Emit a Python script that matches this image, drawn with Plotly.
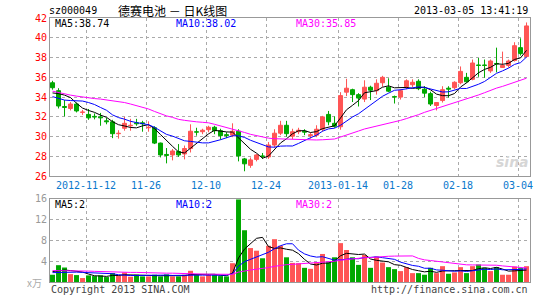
import plotly.graph_objects as go
import pandas as pd

# ---------------- data ----------------
holidays = ["2013-01-01", "2013-01-02", "2013-01-03",
            "2013-02-11", "2013-02-12", "2013-02-13", "2013-02-14", "2013-02-15"]
dates = [d for d in pd.bdate_range("2012-11-02", "2013-03-05")
         if d.strftime("%Y-%m-%d") not in holidays]

opens = [35.45, 34.65, 33.05, 32.85, 33.3, 32.45, 32.25, 32.05, 32.0, 31.6,
         31.5, 30.3, 30.85, 31.1, 31.4, 31.4, 30.9, 30.9, 29.35, 28.2,
         28.15, 28.5, 28.25, 28.8, 30.5, 30.5, 30.7, 30.95, 30.6, 30.2,
         30.15, 30.55, 27.75, 27.1, 27.7, 28.05, 27.95, 29.15, 30.35, 31.15,
         30.05, 30.5, 30.55, 30.1, 30.15, 30.75, 32.25, 31.35, 31.0, 34.5,
         34.75, 34.25, 33.8, 35.0, 34.65, 35.45, 35.0, 34.05, 34.0, 35.05,
         35.25, 35.6, 34.8, 34.35, 33.15, 33.65, 34.9, 34.95, 35.45, 36.0,
         35.8, 37.25, 37.25, 36.65, 37.4, 37.0, 37.2, 37.7, 39.0, 38.1]
highs = [35.65, 34.9, 33.7, 33.5, 33.45, 32.7, 32.8, 32.35, 32.4, 31.9,
         31.7, 30.65, 32.0, 31.8, 31.8, 31.6, 31.55, 31.05, 29.4, 28.85,
         28.75, 29.25, 29.1, 31.25, 30.9, 30.8, 31.1, 31.1, 30.8, 30.45,
         31.35, 30.75, 27.85, 27.9, 28.25, 28.35, 29.45, 30.75, 31.6, 31.6,
         30.8, 30.9, 30.75, 30.4, 31.15, 32.1, 32.6, 32.05, 34.5, 35.85,
         34.85, 34.4, 35.7, 35.15, 35.8, 36.15, 35.9, 34.15, 34.8, 35.8,
         35.8, 35.8, 35.1, 34.55, 33.5, 35.1, 35.1, 35.6, 37.1, 36.45,
         37.8, 37.95, 37.8, 37.8, 39.0, 38.6, 37.8, 39.55, 39.95, 41.55]
lows = [34.75, 32.85, 32.05, 32.65, 32.45, 32.2, 31.7, 31.75, 31.1, 31.25,
        29.85, 29.8, 30.6, 30.6, 31.1, 30.5, 30.5, 29.25, 27.9, 27.3,
        27.6, 27.95, 27.7, 28.4, 30.1, 30.25, 30.45, 30.25, 29.7, 29.85,
        29.95, 27.5, 26.5, 26.85, 27.5, 27.75, 27.75, 28.9, 30.15, 30.0,
        29.75, 30.25, 30.15, 29.8, 29.95, 30.5, 31.15, 30.9, 30.7, 34.1,
        33.5, 33.05, 33.5, 33.7, 34.25, 35.05, 34.5, 33.35, 33.75, 34.8,
        35.0, 34.7, 34.0, 33.1, 32.65, 33.45, 33.95, 34.8, 35.3, 35.45,
        35.7, 36.05, 35.95, 36.45, 36.5, 36.95, 37.0, 37.6, 38.2, 38.0]
closes = [34.95, 33.1, 32.95, 33.3, 32.6, 32.5, 31.9, 31.98, 31.9, 31.5,
          30.3, 30.35, 31.35, 31.15, 31.3, 31.3, 30.95, 29.35, 28.15, 28.1,
          28.55, 28.15, 28.8, 30.55, 30.45, 30.65, 30.95, 30.6, 30.1, 30.1,
          30.55, 28.05, 27.25, 27.65, 28.15, 28.0, 29.15, 30.35, 31.15, 30.3,
          30.5, 30.65, 30.45, 30.2, 30.75, 32.0, 31.5, 31.05, 34.15, 34.9,
          34.25, 33.9, 35.0, 34.7, 35.4, 36.0, 34.6, 34.0, 34.65, 35.65,
          35.5, 34.85, 34.4, 33.3, 33.45, 34.75, 34.8, 35.5, 36.6, 35.55,
          37.45, 37.2, 37.2, 37.65, 37.35, 37.2, 37.65, 39.2, 38.4, 41.2]
volumes = [1.40, 3.24, 2.79, 1.52, 1.33, 0.76, 1.27, 1.14, 1.27, 0.95,
           1.71, 1.21, 1.84, 1.02, 1.40, 1.08, 1.08, 1.40, 1.08, 1.46,
           1.08, 1.08, 1.40, 2.16, 1.40, 1.08, 1.40, 1.40, 1.14, 1.08,
           3.62, 15.9, 9.97, 6.54, 6.03, 4.57, 6.98, 8.25, 6.98, 4.76,
           3.68, 3.62, 2.73, 2.54, 3.81, 5.40, 3.81, 4.76, 7.49, 6.16,
           4.76, 3.30, 5.21, 2.73, 4.89, 3.75, 2.86, 2.48, 2.10, 2.86,
           1.71, 1.71, 1.40, 2.73, 1.71, 3.05, 1.59, 1.84, 2.86, 1.71,
           3.05, 3.37, 2.73, 2.10, 2.86, 1.40, 1.40, 2.98, 2.67, 3.05]

ma5_head = [34.42, 34.35, 34.2, 33.95]
ma10_head = [34.05, 33.85, 33.7, 33.65, 33.65, 33.6, 33.45, 33.25, 32.95]
ma30_head = [34.6, 34.45, 34.3, 34.2, 34.1, 34.0, 33.92, 33.85, 33.8, 33.72,
             33.62, 33.55, 33.45, 33.3, 33.15, 33.0, 32.8, 32.55, 32.3, 32.1,
             31.95, 31.75, 31.65, 31.55, 31.5, 31.45, 31.4, 31.25, 31.1]
vma5_head = [2.0, 2.2, 2.3, 2.2]
vma10_head = [1.8, 1.85, 1.9, 1.9, 1.9, 1.85, 1.8, 1.75, 1.65]
vma30_head = [2.2, 2.2, 2.2, 2.15, 2.15, 2.1, 2.1, 2.05, 2.0, 2.0,
              1.95, 1.9, 1.9, 1.85, 1.85, 1.8, 1.8, 1.75, 1.75, 1.7,
              1.7, 1.65, 1.65, 1.6, 1.6, 1.55, 1.5, 1.5, 1.45]

tick_dates = ["2012-11-12", "2012-11-26", "2012-12-10", "2012-12-24",
              "2013-01-14", "2013-01-28", "2013-02-18", "2013-03-04"]
tick_labels = ["2012-11-12", "11-26", "12-10", "12-24",
               "2013-01-14", "01-28", "02-18", "03-04"]

price_ma_labels = ["MA5:38.74", "MA10:38.02", "MA30:35.85"]
vol_ma_labels = ["MA5:2", "MA10:2", "MA30:2"]
title_code = "sz000049"
title_name = "德赛电池 － 日K线图"
timestamp = "2013-03-05 13:41:19"

# ---------------- helpers ----------------
def moving_avg(vals, n, head):
    out = list(head)
    for i in range(len(head), len(vals)):
        out.append(sum(vals[i - n + 1:i + 1]) / n)
    return out

RED = "#ff5555"
GREEN = "#00a800"
MA_COLORS = ["#000000", "#0000ff", "#ff00ff"]
MONO = "DejaVu Sans Mono"

x = list(range(len(dates)))
date_str = [d.strftime("%Y-%m-%d") for d in dates]
tickvals = [date_str.index(t) - 0.42 for t in tick_dates]
up = [c >= o for o, c in zip(opens, closes)]
colors = [RED if u else GREEN for u in up]

fig = go.Figure()

# wicks (high-low), one trace per colour
for flag, col in [(True, RED), (False, GREEN)]:
    wx, wy = [], []
    for i in x:
        if up[i] == flag:
            wx += [i, i, None]
            wy += [lows[i], highs[i], None]
    fig.add_trace(go.Scatter(x=wx, y=wy, mode="lines", line=dict(color=col, width=1),
                             hoverinfo="skip", xaxis="x", yaxis="y"))

# bodies (open-close)
fig.add_trace(go.Bar(x=x, y=[abs(c - o) for o, c in zip(opens, closes)],
                     base=[min(o, c) for o, c in zip(opens, closes)],
                     width=0.67, marker=dict(color=colors, line=dict(color=colors, width=1)),
                     hoverinfo="skip", xaxis="x", yaxis="y"))

for vals, n, head, col in [(closes, 5, ma5_head, MA_COLORS[0]),
                           (closes, 10, ma10_head, MA_COLORS[1]),
                           (closes, 30, ma30_head, MA_COLORS[2])]:
    fig.add_trace(go.Scatter(x=x, y=moving_avg(vals, n, head), mode="lines",
                             line=dict(color=col, width=1), hoverinfo="skip",
                             xaxis="x", yaxis="y"))

fig.add_trace(go.Bar(x=x, y=volumes, marker=dict(color=colors, line=dict(width=0)),
                     width=0.83, hoverinfo="skip", xaxis="x2", yaxis="y2"))

for vals, n, head, col in [(volumes, 5, vma5_head, MA_COLORS[0]),
                           (volumes, 10, vma10_head, MA_COLORS[1]),
                           (volumes, 30, vma30_head, MA_COLORS[2])]:
    fig.add_trace(go.Scatter(x=x, y=moving_avg(vals, n, head), mode="lines",
                             line=dict(color=col, width=1), hoverinfo="skip",
                             xaxis="x2", yaxis="y2"))

# ---------------- layout ----------------
L, R, T, B = 50, 15, 18, 15
W, H = 545, 300
PW, PH = W - L - R, H - T - B

def px(xp):
    return (xp - L) / PW

def py(yp):
    return (H - B - yp) / PH

grid = dict(showgrid=True, gridcolor="#aaaaaa", griddash="dot", gridwidth=1,
            showline=True, linecolor="#999999", linewidth=1, mirror=True,
            zeroline=False, ticks="")

xr = [-0.42, len(x) - 0.42]
fig.update_layout(
    width=W, height=H, margin=dict(l=L, r=R, t=T, b=B),
    paper_bgcolor="white", plot_bgcolor="white", showlegend=False,
    xaxis=dict(domain=[0, 1], range=xr, anchor="y", tickvals=tickvals, ticktext=tick_labels,
               tickfont=dict(family=MONO, size=10, color="#0a78cc"), **grid),
    yaxis=dict(domain=[py(178), 1], range=[26, 42], dtick=2, anchor="x",
               tickfont=dict(family=MONO, size=10, color="#ff0000"), **grid),
    xaxis2=dict(domain=[0, 1], range=xr, anchor="y2", matches="x", tickvals=tickvals,
                showticklabels=False, **grid),
    yaxis2=dict(domain=[0, py(201)], range=[0, 16], tickvals=[4, 8, 12, 16], anchor="x2",
                tickfont=dict(family=MONO, size=10, color="#999999"), **grid),
)

ann = []
def add_text(text, xp, yp, color, anchor="left", size=10, family=MONO):
    ann.append(dict(text=text, x=px(xp), y=py(yp), xref="paper", yref="paper",
                    xanchor=anchor, yanchor="middle", showarrow=False,
                    font=dict(family=family, size=size, color=color)))

add_text(title_code, 47, 10, "#000000")
add_text(title_name, 116, 10, "#000000", size=12, family="Noto Sans CJK SC")
add_text(timestamp, 530, 10, "#000000", anchor="right")
for lab, xp, col in zip(price_ma_labels, [53, 174, 294], MA_COLORS):
    add_text(lab, xp, 24, col)
for lab, xp, col in zip(vol_ma_labels, [53, 174, 294], MA_COLORS):
    add_text(lab, xp, 207, col)
add_text("x万", 44, 286, "#aaaaaa", anchor="right", family="Noto Sans CJK SC")
add_text("Copyright 2013 SINA.COM", 49, 293, "#444444")
add_text("http://finance.sina.com.cn", 530, 293, "#444444", anchor="right")
ann.append(dict(text="<b><i>sina</i></b>", x=px(512), y=py(164), xref="paper", yref="paper",
                xanchor="center", yanchor="middle", showarrow=False,
                font=dict(family="DejaVu Sans", size=14, color="#d6d6d6")))
fig.update_layout(annotations=ann)

fig.write_html("out.html")
